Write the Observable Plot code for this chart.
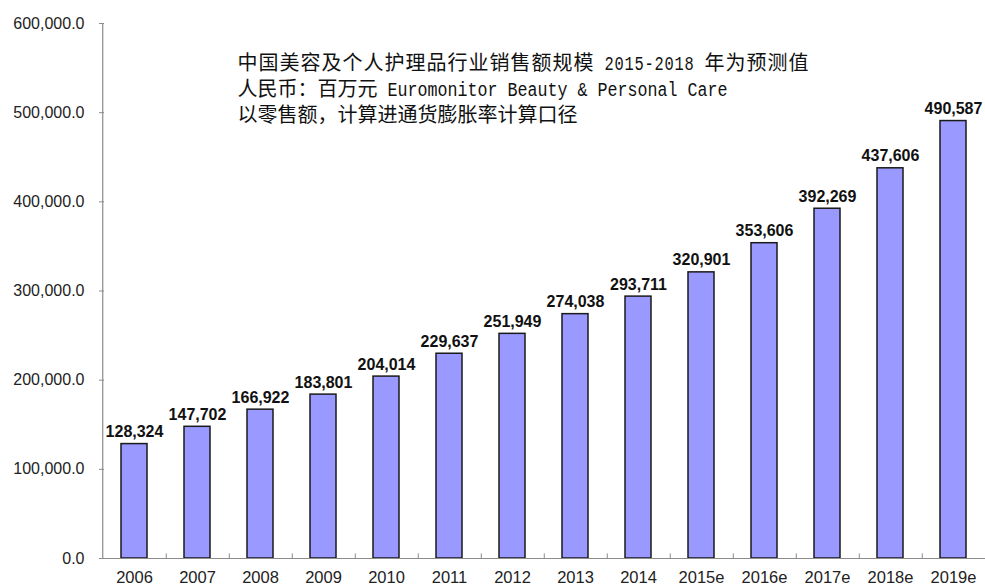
<!DOCTYPE html>
<html><head><meta charset="utf-8">
<script src="https://cdn.jsdelivr.net/npm/d3@7"></script>
<script src="https://cdn.jsdelivr.net/npm/@observablehq/plot@0.6"></script>
<style>body{margin:0;background:#fff;overflow:hidden}</style>
</head><body><div id="chart"></div>
<script>
const years = ["2006","2007","2008","2009","2010","2011","2012","2013","2014","2015e","2016e","2017e","2018e","2019e"];
const sales = [128324,147702,166922,183801,204014,229637,251949,274038,293711,320901,353606,392269,437606,490587];
const yTicks = [0,100000,200000,300000,400000,500000,600000];
const annotation = [
  "中国美容及个人护理品行业销售额规模 2015-2018 年为预测值",
  "人民币：百万元 Euromonitor Beauty & Personal Care",
  "以零售额，计算进通货膨胀率计算口径"
];

const data = years.map((year, i) => ({year, value: sales[i]}));
const W = 985, H = 585, ML = 99, MT = 23, MB = 27;
const xRight = 988.5;
const step = (xRight - ML) / years.length;
const axisColor = "#8c8c8c";

const chart = Plot.plot({
  width: W, height: H,
  marginLeft: ML, marginRight: 0, marginTop: MT, marginBottom: MB,
  style: {fontFamily: "'Liberation Sans', Arial, sans-serif", fontSize: "16px", background: "#fff", color: "#222", overflow: "hidden"},
  x: {domain: years, range: [ML, xRight], paddingInner: 0.585, paddingOuter: 0.2925, label: null},
  y: {domain: [0, 600000], label: null},
  marks: [
    Plot.barY(data, {x: "year", y: "value", fill: "#9999ff", stroke: "#1a1a1a", strokeWidth: 1.5}),
    Plot.ruleY([0], {stroke: axisColor, strokeWidth: 1.2}),
    Plot.ruleX([years[0]], {x: d => d, dx: -step / 2, stroke: axisColor, strokeWidth: 1.2}),
    Plot.ruleX(years.slice(0, -1), {x: d => d, dx: step / 2, y1: 0, y2: 5200, stroke: axisColor}),
    Plot.ruleY(yTicks, {y: d => d, insetRight: W - ML - 5, stroke: axisColor}),
    Plot.axisY(yTicks, {tickSize: 0, tickPadding: 15, tickFormat: d3.format(",.1f"), fontSize: 16, label: null, ariaLabel: "y-axis"}),
    Plot.axisX({tickSize: 0, tickPadding: 13, fontSize: 16.5, label: null, ariaLabel: "x-axis"}),
    Plot.text(data, {x: "year", y: "value", text: d => d3.format(",")(d.value), lineAnchor: "bottom", dy: -7, fontWeight: "bold", fontSize: 16, fill: "#111"}),
    Plot.text([annotation.join("\n")], {frameAnchor: "top-left", dx: 138, dy: 28, lineAnchor: "top", textAnchor: "start", fontSize: 20, lineHeight: 1.3, fontFamily: "'Noto Sans CJK SC', sans-serif", fill: "#111"})
  ]
});

// make sure axis tick labels get their font size
chart.querySelectorAll("g[aria-label^='y-axis']").forEach(g => { if (g.querySelector("text")) g.setAttribute("font-size", "16"); });
chart.querySelectorAll("g[aria-label^='x-axis']").forEach(g => { if (g.querySelector("text")) g.setAttribute("font-size", "16.5"); });

// render Latin runs of the annotation in a half-width monospace face
chart.querySelectorAll("text").forEach(t => {
  const spans = t.querySelectorAll("tspan");
  const targets = spans.length ? Array.from(spans) : [t];
  targets.forEach(sp => {
    const s = sp.textContent;
    const li = annotation.indexOf(s);
    if (li < 0) return;
    sp.textContent = "";
    if (li === 0) sp.setAttribute("letter-spacing", "1");
    s.split(/([\x20-\x7E]+)/).forEach(part => {
      if (!part) return;
      const ts = document.createElementNS("http://www.w3.org/2000/svg", "tspan");
      ts.textContent = part;
      if (/^[\x20-\x7E]+$/.test(part)) {
        ts.setAttribute("font-family", "'Liberation Mono', monospace");
        ts.setAttribute("textLength", String(part.length * 10));
        ts.setAttribute("lengthAdjust", "spacingAndGlyphs");
        ts.setAttribute("style", "white-space:pre");
      }
      sp.appendChild(ts);
    });
  });
});

document.getElementById("chart").appendChild(chart);
</script>
</body></html>
